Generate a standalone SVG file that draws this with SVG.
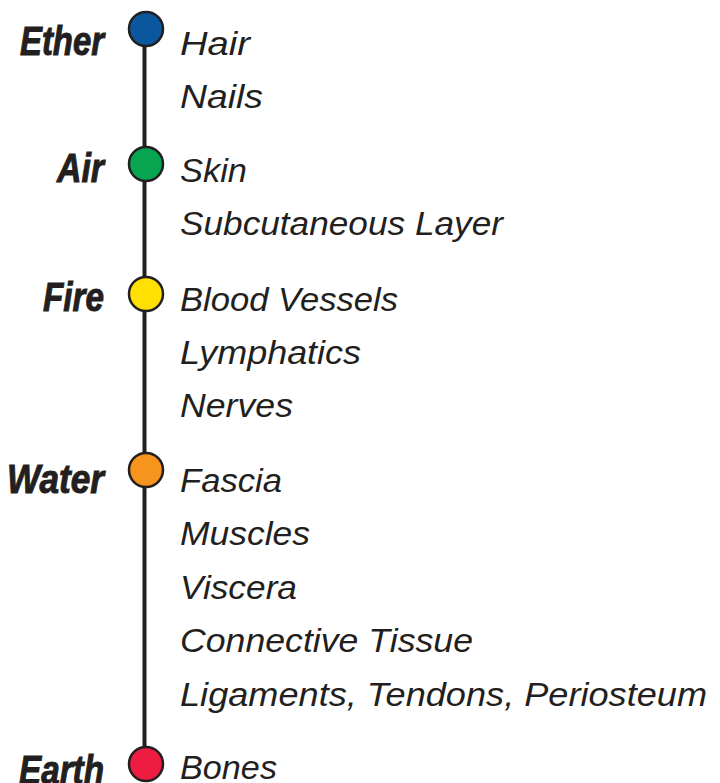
<svg xmlns="http://www.w3.org/2000/svg" width="720" height="783" viewBox="0 0 720 783">
<style>
.el{font-family:"Liberation Sans Narrow","Liberation Sans",Arial,sans-serif;font-weight:bold;font-style:italic;font-size:40px;fill:#231f20;stroke:#231f20;stroke-width:1;text-anchor:end}
.it{font-family:"Liberation Sans",Arial,sans-serif;font-style:italic;font-size:34px;fill:#231f20}
.dot{stroke:#231f20;stroke-width:2.5}
</style>
<rect width="720" height="783" fill="#ffffff"/>
<g id="connectors">
<line x1="144.5" y1="28" x2="144.5" y2="764" stroke="#231f20" stroke-width="4"/>
</g>
<g id="ether">
<circle class="dot" cx="146" cy="29" r="17" fill="#0a579e"/>
<text class="el" x="104" y="55" textLength="84" lengthAdjust="spacingAndGlyphs">Ether</text>
<text class="it" x="180" y="55" textLength="70" lengthAdjust="spacingAndGlyphs">Hair</text>
<text class="it" x="180" y="108" textLength="83" lengthAdjust="spacingAndGlyphs">Nails</text>
</g>
<g id="air">
<circle class="dot" cx="146" cy="164" r="17" fill="#07a550"/>
<text class="el" x="104" y="182" textLength="47" lengthAdjust="spacingAndGlyphs">Air</text>
<text class="it" x="180" y="182" textLength="67" lengthAdjust="spacingAndGlyphs">Skin</text>
<text class="it" x="180" y="235" textLength="323" lengthAdjust="spacingAndGlyphs">Subcutaneous Layer</text>
</g>
<g id="fire">
<circle class="dot" cx="146" cy="294" r="17" fill="#ffe000"/>
<text class="el" x="104" y="311" textLength="61" lengthAdjust="spacingAndGlyphs">Fire</text>
<text class="it" x="180" y="311" textLength="218" lengthAdjust="spacingAndGlyphs">Blood Vessels</text>
<text class="it" x="180" y="364" textLength="181" lengthAdjust="spacingAndGlyphs">Lymphatics</text>
<text class="it" x="180" y="417" textLength="113" lengthAdjust="spacingAndGlyphs">Nerves</text>
</g>
<g id="water">
<circle class="dot" cx="146" cy="470" r="17" fill="#f7941d"/>
<text class="el" x="104" y="493" textLength="97" lengthAdjust="spacingAndGlyphs">Water</text>
<text class="it" x="180" y="492" textLength="102" lengthAdjust="spacingAndGlyphs">Fascia</text>
<text class="it" x="180" y="545" textLength="130" lengthAdjust="spacingAndGlyphs">Muscles</text>
<text class="it" x="180" y="599" textLength="117" lengthAdjust="spacingAndGlyphs">Viscera</text>
<text class="it" x="180" y="652" textLength="293" lengthAdjust="spacingAndGlyphs">Connective Tissue</text>
<text class="it" x="180" y="706" textLength="527" lengthAdjust="spacingAndGlyphs">Ligaments, Tendons, Periosteum</text>
</g>
<g id="earth">
<circle class="dot" cx="146" cy="764" r="17" fill="#ed1c40"/>
<text class="el" x="104" y="784" textLength="85" lengthAdjust="spacingAndGlyphs">Earth</text>
<text class="it" x="180" y="779" textLength="97" lengthAdjust="spacingAndGlyphs">Bones</text>
</g>
</svg>
